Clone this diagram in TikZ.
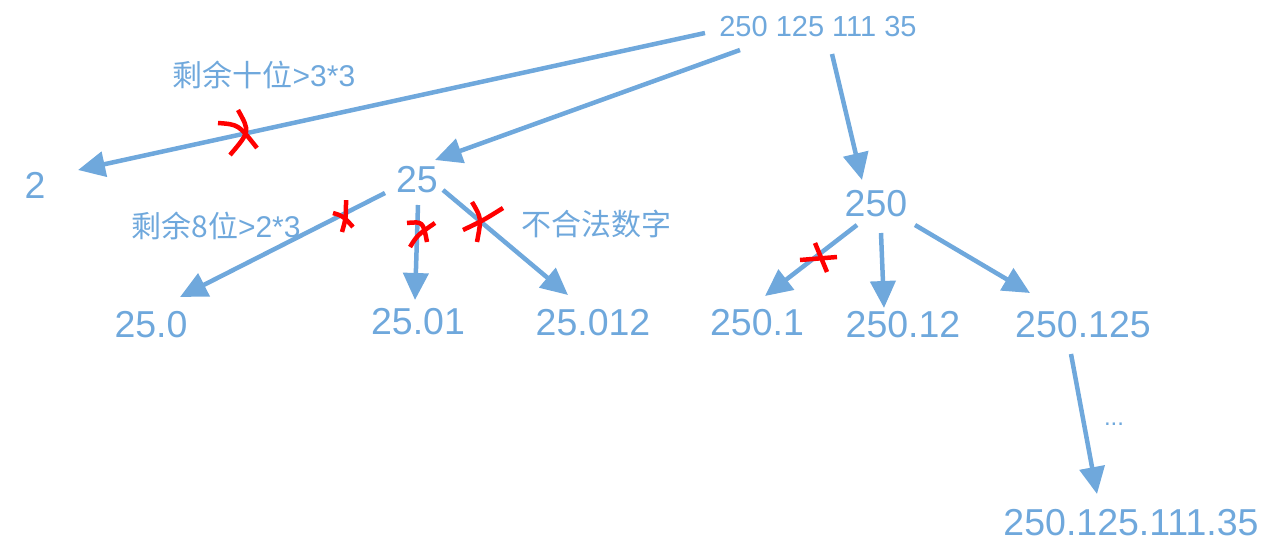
\documentclass[tikz,border=0pt]{standalone}
\usepackage{fontspec}
\setmainfont{Liberation Sans}
\newfontfamily\cjk{Noto Sans CJK SC}
\usetikzlibrary{arrows.meta}
\definecolor{tblue}{HTML}{6FA8DC}
\definecolor{tred}{HTML}{FF0000}
\tikzset{
  num/.style={inner sep=0pt, outer sep=0pt, text=tblue, font=\fontsize{37.5}{40}\selectfont},
  rootnum/.style={inner sep=0pt, outer sep=0pt, text=tblue, font=\fontsize{29}{32}\selectfont},
  lab/.style={inner sep=0pt, outer sep=0pt, text=tblue, font=\fontsize{30}{33}\selectfont},
  arr/.style={draw=tblue, line width=4.5pt, -{Triangle[length=27pt,width=25pt]}},
  cross/.style={draw=tred, line width=4.5pt}
}
\begin{document}
\begin{tikzpicture}[x=1pt,y=-1pt]
\useasboundingbox (0,0) rectangle (1287,559);
% nodes
\node[rootnum] (root) at (818,27) {250 125 111 35};
\node[num] (n2) at (35,185) {2};
\node[num] (n25) at (417,180) {25};
\node[num] (n250) at (876,204) {250};
\node[num] (a) at (151,325) {25.0};
\node[num] (b) at (418,322) {25.01};
\node[num] (c) at (593,323) {25.012};
\node[num] (d) at (757,323) {250.1};
\node[num] (e) at (903,325) {250.12};
\node[num] (f) at (1083,325) {250.125};
\node[num] (g) at (1131,523) {250.125.111.35};
\node[rootnum, font=\fontsize{24}{26}\selectfont, anchor=base] (dots) at (1114,425) {...};
\node[lab] (lab1) at (264,75) {{\cjk 剩余十位}>3*3};
\node[lab] (lab2) at (216,226) {{\cjk 剩余8位}>2*3};
\node[lab] (lab3) at (596,224) {{\cjk 不合法数字}};
% connectors
\draw[arr] ([shift={(-113,6)}]root.center) -- ([shift={(43,-15)}]n2.center);
\draw[arr] ([shift={(-78,23)}]root.center) -- ([shift={(18,-20)}]n25.center);
\draw[arr] ([shift={(14,27)}]root.center) -- ([shift={(-14,-24)}]n250.center);
\draw[arr] ([shift={(-32,13)}]n25.center) -- ([shift={(29,-28)}]a.center);
\draw[arr] ([shift={(1,25)}]n25.center) -- ([shift={(-3,-22)}]b.center);
\draw[arr] ([shift={(26,10)}]n25.center) -- ([shift={(-25,-28)}]c.center);
\draw[arr] ([shift={(-19,21)}]n250.center) -- ([shift={(8,-27)}]d.center);
\draw[arr] ([shift={(5,29)}]n250.center) -- ([shift={(-19,-17)}]e.center);
\draw[arr] ([shift={(39,21)}]n250.center) -- ([shift={(-53,-32)}]f.center);
\draw[arr] ([shift={(-12,29)}]f.center) -- ([shift={(-34,-29)}]g.center);
% red crosses
\draw[cross] (218,123) .. controls (238.5,124.5) .. (257,148);
\draw[cross] (238,110) .. controls (250,131.5) .. (230,155);
\draw[cross] (346,200) .. controls (346,218) .. (342,232);
\draw[cross] (333,213) .. controls (343,216) .. (353,227);
\draw[cross] (407,223) .. controls (423,221.5) .. (427,242);
\draw[cross] (435,223) .. controls (417.5,235) .. (410,247);
\draw[cross] (472,202) .. controls (481.5,218) .. (477,242);
\draw[cross] (463,230) .. controls (483,220.5) .. (503,208);
\draw[cross] (800,260) -- (837,257);
\draw[cross] (815,243) -- (827,272);
\end{tikzpicture}
\end{document}
